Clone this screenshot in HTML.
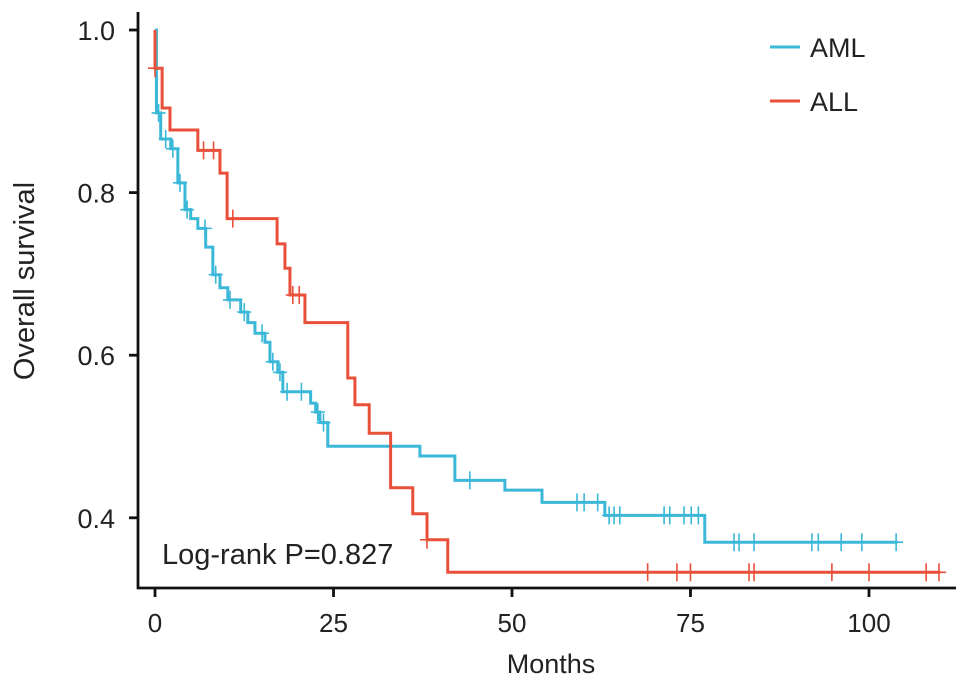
<!DOCTYPE html>
<html><head><meta charset="utf-8"><style>
body{margin:0;background:#fff}
svg text{font-family:"Liberation Sans",Arial,sans-serif;fill:#222}
</style></head><body>
<svg id="chart" width="969" height="688" viewBox="0 0 969 688" xmlns="http://www.w3.org/2000/svg">
<g id="axes"></g>
<g id="series"></g>
<text x="551" y="673" font-size="27" text-anchor="middle">Months</text>
<text transform="translate(34,281) rotate(-90)" font-size="29" text-anchor="middle">Overall survival</text>
<text x="162" y="564" font-size="29">Log-rank P=0.827</text>
<g>
<line x1="770" y1="47" x2="800" y2="47" stroke="#3bb8d8" stroke-width="3"/>
<text x="810" y="57" font-size="27">AML</text>
<line x1="770" y1="101" x2="800" y2="101" stroke="#e8503a" stroke-width="3"/>
<text x="810" y="111" font-size="27">ALL</text>
</g>
</svg>
<script>
const xTicks=[0,25,50,75,100];
const yTicks=[0.4,0.6,0.8,1.0];
const amlTimes=[0.2,0.8,2.2,3.2,4.2,5.0,6.0,7.1,8.1,9.1,10.2,12.0,13.0,14.0,15.4,16.1,17.2,17.9,21.8,22.5,23.1,24.2,37.1,42,49,54.2,63,77];
const amlSurv=[0.898,0.866,0.854,0.812,0.779,0.768,0.756,0.733,0.699,0.683,0.668,0.653,0.640,0.627,0.616,0.592,0.579,0.555,0.541,0.530,0.517,0.488,0.476,0.446,0.434,0.419,0.403,0.370];
const amlEnd=104;
const amlCensor=[0.5,1.5,2.5,3.5,4.5,7,8.5,10.5,12.5,15,16.5,17.5,18.5,20.5,22.8,23.6,44.1,59.1,60.1,62,63.6,64.3,65.1,71.3,72.1,74.1,75.1,76.1,81.1,81.8,83.9,92,92.9,96.1,99,103.8];
const allTimes=[0,1,2.1,6,9.1,10.1,17.1,18.2,18.9,21,27,28,30,33,36.1,38.1,41];
const allSurv=[0.953,0.904,0.877,0.852,0.824,0.768,0.737,0.707,0.674,0.640,0.572,0.539,0.504,0.437,0.405,0.373,0.333];
const allEnd=110;
const allCensor=[0,6.8,8.2,10.9,19.3,20.2,38.1,69,73.1,75,83.2,83.9,94.8,100,108,109.8];

const NS="http://www.w3.org/2000/svg";
const X=m=>155+m*7.14;
const Y=s=>30+(1-s)*813;
function mk(tag,attrs,parent){const e=document.createElementNS(NS,tag);for(const k in attrs)e.setAttribute(k,attrs[k]);parent.appendChild(e);return e;}
const axes=document.getElementById('axes');
let a=mk('line',{x1:138,y1:12,x2:138,y2:589,stroke:'#111','stroke-width':2.8},axes);


a=mk('line',{x1:137,y1:588,x2:956,y2:588,stroke:'#111','stroke-width':2.8},axes);


xTicks.forEach(t=>{
 const l=mk('line',{x1:X(t),y1:588,x2:X(t),y2:597,stroke:'#111','stroke-width':2.8},axes);
 
 
 const tx=mk('text',{x:X(t),y:632,'font-size':26,'text-anchor':'middle'},axes);tx.textContent=t;
 
 
});
yTicks.forEach(t=>{
 const l=mk('line',{x1:129,y1:Y(t),x2:138,y2:Y(t),stroke:'#111','stroke-width':2.8},axes);
 
 
 const tx=mk('text',{x:115,y:Y(t)+10,'font-size':27,'text-anchor':'end'},axes);tx.textContent=t.toFixed(1);
 
 
});
function stepAt(times,surv,t){let s=1;for(let i=0;i<times.length;i++){if(times[i]<=t)s=surv[i];}return s;}
function drawSeries(times,surv,end,cens,color,name){
 const g=document.getElementById('series');
 let d='M'+X(0)+','+Y(1);
 for(let i=0;i<times.length;i++){d+=' H'+X(times[i])+' V'+Y(surv[i]);}
 d+=' H'+X(end);
 const p=mk('path',{d:d,fill:'none',stroke:color,'stroke-width':3},g);
 
 
 cens.forEach(c=>{
  const v=stepAt(times,surv,c);
  const m=mk('path',{d:'M'+(X(c)-7)+','+Y(v)+' H'+(X(c)+7)+' M'+X(c)+','+(Y(v)-9)+' V'+(Y(v)+9),stroke:color,'stroke-width':1.6,fill:'none'},g);
  
  
 });
}
drawSeries(amlTimes,amlSurv,amlEnd,amlCensor,'#3bb8d8','aml');
drawSeries(allTimes,allSurv,allEnd,allCensor,'#e8503a','all');
</script>
</body></html>
